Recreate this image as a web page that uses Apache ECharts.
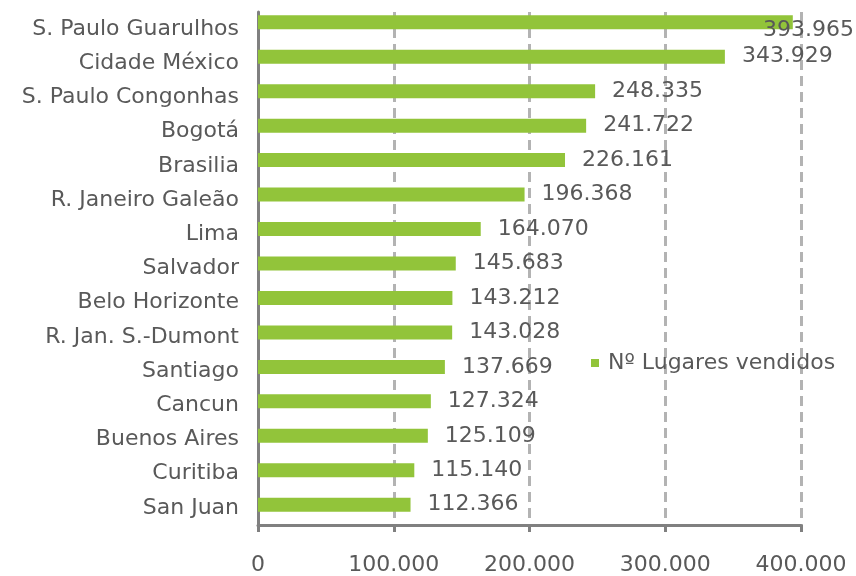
<!DOCTYPE html>
<html>

<head>
  <meta charset="utf-8" />
  <title>Lugares vendidos</title>
  <style>
    html, body { margin: 0; padding: 0; background: #fff; }
    #chart { width: 856px; height: 576px; }
  </style>
</head>

<body>
  <div id="chart"></div>
</body>
<script src="https://cdn.jsdelivr.net/npm/echarts@6/dist/echarts.min.js"></script>
<script>
  // aeroportos, de cima para baixo
  let airports = [
    'S. Paulo Guarulhos', 'Cidade México', 'S. Paulo Congonhas', 'Bogotá', 'Brasilia',
    'R. Janeiro Galeão', 'Lima', 'Salvador', 'Belo Horizonte', 'R. Jan. S.-Dumont',
    'Santiago', 'Cancun', 'Buenos Aires', 'Curitiba', 'San Juan'
  ]
  let seats = [
    393965, 343929, 248335, 241722, 226161,
    196368, 164070, 145683, 143212, 143028,
    137669, 127324, 125109, 115140, 112366
  ]
  let xTicks = [0, 100000, 200000, 300000, 400000]
  let seriesName = 'Nº Lugares vendidos'

  let textColor = '#595959'
  let axisColor = '#808080'
  let barColor = '#92C43A'
  let font = 'DejaVu Sans'

  // 393965 -> "393.965"
  let fmt = (v) => String(v).replace(/\B(?=(\d{3})+(?!\d))/g, '.')

  let chart = echarts.init(document.getElementById('chart'))

  let option = {
    animation: false,
    textStyle: { fontFamily: font },
    legend: {
      data: [seriesName],
      left: 586,
      top: 347,
      icon: 'rect',
      itemWidth: 8,
      itemHeight: 8,
      textStyle: { color: textColor, fontSize: 22, fontFamily: font, padding: [0, 0, 0, 4] },
    },
    // grid 0: barras; grid 1: eixos e grelha
    grid: [
      { left: 258, right: 55, top: 5, height: 517 },
      { left: 258, right: 55, top: 12, height: 516 },
    ],
    xAxis: [
      { gridIndex: 0, type: 'value', min: 0, max: 400000, show: false },
      {
        gridIndex: 1,
        type: 'value',
        min: xTicks[0],
        max: xTicks[xTicks.length - 1],
        interval: 100000,
        axisLine: { show: true, lineStyle: { color: axisColor, width: 3 } },
        axisTick: { show: true, length: 7, lineStyle: { color: axisColor, width: 3 } },
        axisLabel: {
          color: textColor, fontSize: 22, fontFamily: font, margin: 29,
          formatter: (v) => fmt(v),
        },
        splitLine: { show: true, lineStyle: { color: '#b3b3b3', width: 3, type: [10, 6] } },
      },
    ],
    yAxis: [
      {
        gridIndex: 0, type: 'category', inverse: true, data: airports, show: false,
      },
      {
        gridIndex: 1,
        type: 'category',
        inverse: true,
        data: airports,
        axisLine: { show: true, lineStyle: { color: axisColor, width: 3 } },
        axisTick: { show: false },
        axisLabel: {
          color: textColor, fontSize: 22, fontFamily: font, margin: 19,
          padding: [5, 0, 0, 0],
        },
      },
    ],
    series: [
      {
        name: seriesName,
        type: 'bar',
        xAxisIndex: 0,
        yAxisIndex: 0,
        barWidth: 14,
        itemStyle: { color: barColor },
        label: {
          show: true,
          position: 'right',
          distance: 17,
          offset: [0, 3],
          color: textColor,
          fontSize: 22,
          fontFamily: font,
          formatter: (p) => fmt(p.value),
        },
        // rótulo que sai da área do gráfico fica encostado à direita
        labelLayout: (p) => {
          let over = p.labelRect.x + p.labelRect.width - 854
          return over > 0 ? { dx: -over, dy: 8 } : {}
        },
        data: seats,
      },
    ],
  }

  chart.setOption(option)
</script>

</html>
